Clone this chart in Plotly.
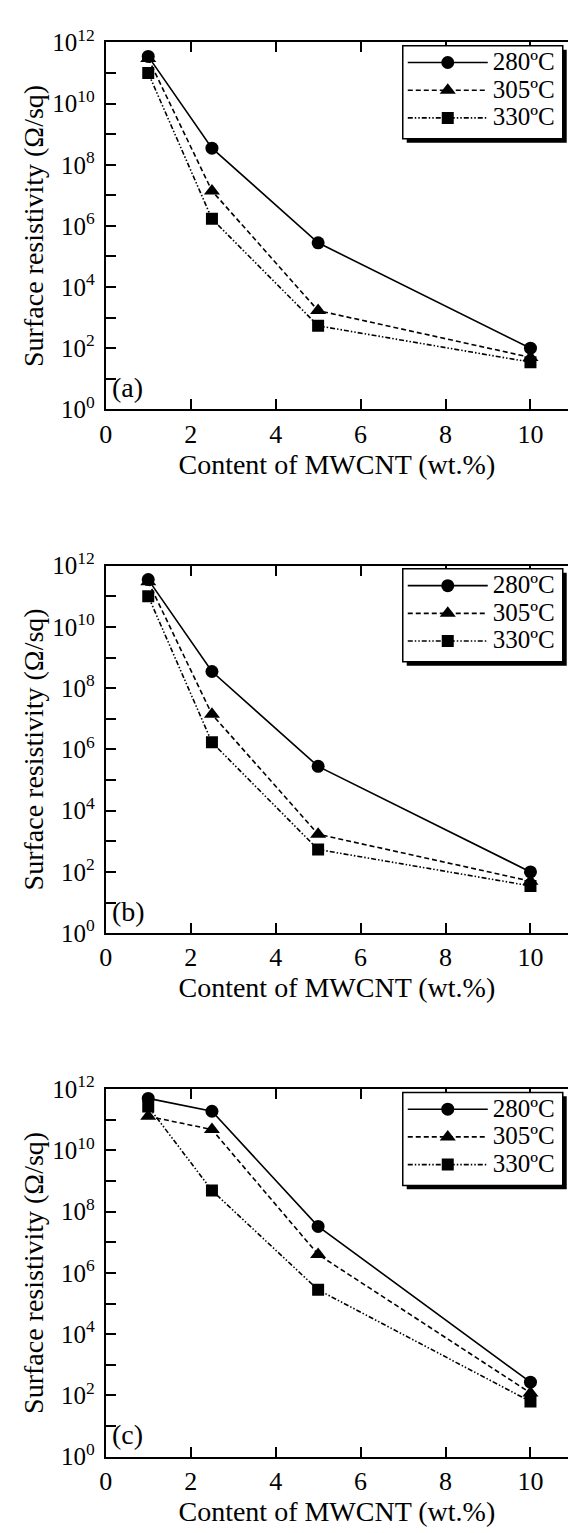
import plotly.graph_objects as go

# MWCNT content (wt.%)
content = [1, 2.5, 5, 10]
labels = ["280ºC", "305ºC", "330ºC"]

# Surface resistivity (Ω/sq) for each processing temperature
rho_a_280 = [3.5e11, 3.5e8, 2.8e5, 100]
rho_a_305 = [3.0e11, 1.4e7, 1.7e3, 50]
rho_a_330 = [1.0e11, 1.7e6, 5.4e2, 35]

rho_b_280 = [3.5e11, 3.5e8, 2.8e5, 100]
rho_b_305 = [3.0e11, 1.4e7, 1.7e3, 50]
rho_b_330 = [1.0e11, 1.7e6, 5.4e2, 35]

rho_c_280 = [5.0e11, 1.9e11, 3.3e7, 270]
rho_c_305 = [1.3e11, 4.8e10, 4.0e6, 120]
rho_c_330 = [2.7e11, 4.9e8, 2.8e5, 63]

panel_tags = ["(a)", "(b)", "(c)"]
x_ticks = [0, 2, 4, 6, 8, 10]
y_tick_exp = list(range(0, 13))

W, H = 568, 1533
FONT = "Liberation Serif, Times New Roman, serif"
PX_PER_UNIT = 43  # horizontal scale of the content axis

styles = [
    dict(dash="solid", symbol="circle", size=13),
    dict(dash="5px,3px", symbol="triangle-up", size=14),
    dict(dash="5px,2px,1.5px,2px,1.5px,2px", symbol="square", size=12),
]

panels = [
    (rho_a_280, rho_a_305, rho_a_330),
    (rho_b_280, rho_b_305, rho_b_330),
    (rho_c_280, rho_c_305, rho_c_330),
]

# vertical pixel extents of each plot area
plot_px = [(25, 399.7), (559.3, 934.7), (1094, 1469.3)]
left_px = 100
x_max = (W - left_px) / PX_PER_UNIT

# legend rows are spaced by the legend font size; entry text is drawn larger
LEG_ROW_FONT = 19
LEG_TEXT_FONT = 25
# framed legend box (px offsets from the panel's top edge / page left)
BOX_X0, BOX_X1 = 400.7, 562.7
BOX_DY0, BOX_DY1 = 3.3, 98.3
SHADOW = 4


def px(x, y):
    return x / W, 1 - y / H


fig = go.Figure()

tickvals = [10 ** e for e in y_tick_exp]
ticktext = [f"10<sup>{e}</sup>" if e % 2 == 0 else "" for e in y_tick_exp]

for i, series in enumerate(panels):
    n = "" if i == 0 else str(i + 1)
    legend_name = "legend" if i == 0 else f"legend{i + 1}"
    for j, ys in enumerate(series):
        fig.add_trace(go.Scatter(
            x=content, y=ys, mode="lines+markers",
            name=f'<span style="font-size:{LEG_TEXT_FONT}px">{labels[j]}</span>',
            line=dict(color="black", width=1.6, dash=styles[j]["dash"]),
            marker=dict(symbol=styles[j]["symbol"], size=styles[j]["size"],
                        color="black"),
            xaxis=f"x{n}", yaxis=f"y{n}", legend=legend_name,
        ))

    top, bot = plot_px[i]
    dom_y = [1 - bot / H, 1 - top / H]
    right_axis = f"yaxis{i + 4}"
    fig.update_layout({
        f"xaxis{n}": dict(
            domain=[left_px / W, 1], range=[0, x_max],
            anchor=f"y{n}", tickvals=x_ticks,
            ticks="inside", ticklen=10, tickwidth=1.5, tickcolor="black",
            showline=True, linecolor="black", linewidth=2, mirror="ticks",
            showgrid=False, zeroline=False,
            tickfont=dict(family=FONT, size=26, color="black"),
            title=dict(text="Content of MWCNT (wt.%)", standoff=2,
                       font=dict(family=FONT, size=28, color="black")),
        ),
        f"yaxis{n}": dict(
            domain=dom_y, type="log", range=[0, 12],
            anchor=f"x{n}", tickvals=tickvals, ticktext=ticktext,
            ticks="inside", ticklen=10, tickwidth=1.5, tickcolor="black",
            showline=True, linecolor="black", linewidth=2, mirror=False,
            showgrid=False, zeroline=False, ticklabelstandoff=4,
            tickfont=dict(family=FONT, size=25, color="black"),
            title=dict(text="Surface resistivity (Ω/sq)", standoff=0,
                       font=dict(family=FONT, size=28, color="black")),
        ),
        # ticks along the right-hand frame
        right_axis: dict(
            overlaying=f"y{n}", anchor=f"x{n}", side="right", type="log",
            range=[0, 12], tickvals=tickvals, showticklabels=False,
            ticks="inside", ticklen=6, tickwidth=1.5, tickcolor="black",
            showline=False, showgrid=False, zeroline=False,
        ),
        legend_name: dict(
            x=BOX_X0 / W, y=1 - (top + 1.2) / H, xref="paper", yref="paper",
            xanchor="left", yanchor="top",
            bgcolor="rgba(0,0,0,0)", borderwidth=0,
            font=dict(family=FONT, size=LEG_ROW_FONT, color="black"),
            itemwidth=80, tracegroupgap=0,
        ),
    })
    # legend frame with its drop shadow
    sx0, sy0 = px(BOX_X0 + SHADOW, top + BOX_DY1 + SHADOW)
    sx1, sy1 = px(BOX_X1 + SHADOW, top + BOX_DY0 + SHADOW)
    fig.add_shape(type="rect", xref="paper", yref="paper", layer="above",
                  x0=sx0, x1=sx1, y0=sy0, y1=sy1,
                  fillcolor="black", line=dict(width=0))
    bx0, by0 = px(BOX_X0, top + BOX_DY1)
    bx1, by1 = px(BOX_X1, top + BOX_DY0)
    fig.add_shape(type="rect", xref="paper", yref="paper", layer="above",
                  x0=bx0, x1=bx1, y0=by0, y1=by1,
                  fillcolor="white", line=dict(color="black", width=1.5))
    fig.add_annotation(
        text=panel_tags[i], xref=f"x{n} domain", yref=f"y{n} domain",
        x=0.01, y=0.012, xanchor="left", yanchor="bottom", showarrow=False,
        font=dict(family=FONT, size=28, color="black"),
    )

fig.update_layout(
    width=W, height=H, margin=dict(l=0, r=0, t=0, b=0),
    paper_bgcolor="white", plot_bgcolor="white", showlegend=True,
)

fig.write_html("out.html")
